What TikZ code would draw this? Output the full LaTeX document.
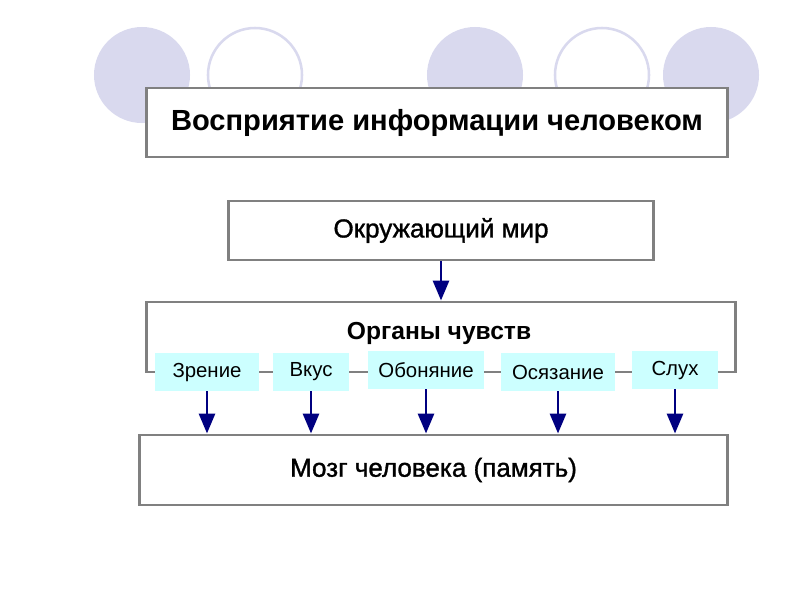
\documentclass[tikz,border=0pt]{standalone}
\usepackage{fontspec}
\setmainfont{Liberation Sans}
\newfontfamily\heavyfont[FakeBold=1.2]{Liberation Sans}
\usepackage{tikz}
\usetikzlibrary{positioning,arrows.meta}

\definecolor{lavender}{RGB}{217,217,238}
\definecolor{framegray}{RGB}{128,128,128}
\definecolor{sensecyan}{RGB}{204,255,255}
\definecolor{arrownavy}{RGB}{0,0,128}

\begin{document}
\begin{tikzpicture}[
  x=0.025cm, y=-0.025cm,
  bigbox/.style={rectangle, draw=framegray, fill=white, line width=2.1pt, align=center, minimum width=#1, inner sep=0pt},
  sensebox/.style={rectangle, fill=sensecyan, minimum height=0.95cm, minimum width=#1, inner sep=0pt, font=\fontsize{14.5}{17}\selectfont},
  dotfill/.style={circle, fill=lavender, minimum size=2.4cm, inner sep=0pt},
  dotring/.style={circle, draw=lavender, line width=1.8pt, fill=white, minimum size=2.35cm, inner sep=0pt},
  arrow/.style={-{Triangle[width=0.4cm,length=0.5cm]}, line width=2.1pt, draw=arrownavy},
]
  \useasboundingbox (0,0) rectangle (800,600);

  % Circles on top
  \node[dotfill] (c1) at (142,75) {};
  \node[dotring] (c2) at (255,75) {};
  \node[dotfill] (c3) at (475,75) {};
  \node[dotring] (c4) at (602,75) {};
  \node[dotfill] (c5) at (711,75) {};

  % Title
  \node[bigbox=14.5cm, minimum height=1.725cm, font=\fontsize{20.7}{24}\selectfont\bfseries] (title) at (437,122.5) {Восприятие информации человеком};

  % World, senses, brain
  \node[bigbox=10.6cm, minimum height=1.475cm, font=\fontsize{18.5}{22}\selectfont\heavyfont] (world) at (441,230.5) {Окружающий мир};
  \node[bigbox=14.7cm, minimum height=1.75cm] (senses) at (441,337) {};
  \node[font=\fontsize{17.5}{21}\selectfont\bfseries] (sensetitle) at (439,333) {Органы чувств};
  \node[bigbox=14.675cm, minimum height=1.75cm, font=\fontsize{18.5}{22}\selectfont\heavyfont] (brain) at (433.5,470) {Мозг человека (память)};

  % Sense organs
  \node[sensebox=2.6cm] (sight) at (207,372) {Зрение};
  \node[sensebox=1.9cm] (taste) at (311,372) {Вкус};
  \node[sensebox=2.9cm] (smell) at (426,370) {Обоняние};
  \node[sensebox=2.85cm] (touch) at (558,372) {Осязание};
  \node[sensebox=2.15cm] (hearing) at (675,370) {Слух};

  % Arrows
  \draw[arrow] (world.south) -- (senses.north -| world.south);
  \draw[arrow] (sight.south) -- (brain.north -| sight.south);
  \draw[arrow] (taste.south) -- (brain.north -| taste.south);
  \draw[arrow] (smell.south) -- (brain.north -| smell.south);
  \draw[arrow] (touch.south) -- (brain.north -| touch.south);
  \draw[arrow] (hearing.south) -- (brain.north -| hearing.south);
\end{tikzpicture}
\end{document}
